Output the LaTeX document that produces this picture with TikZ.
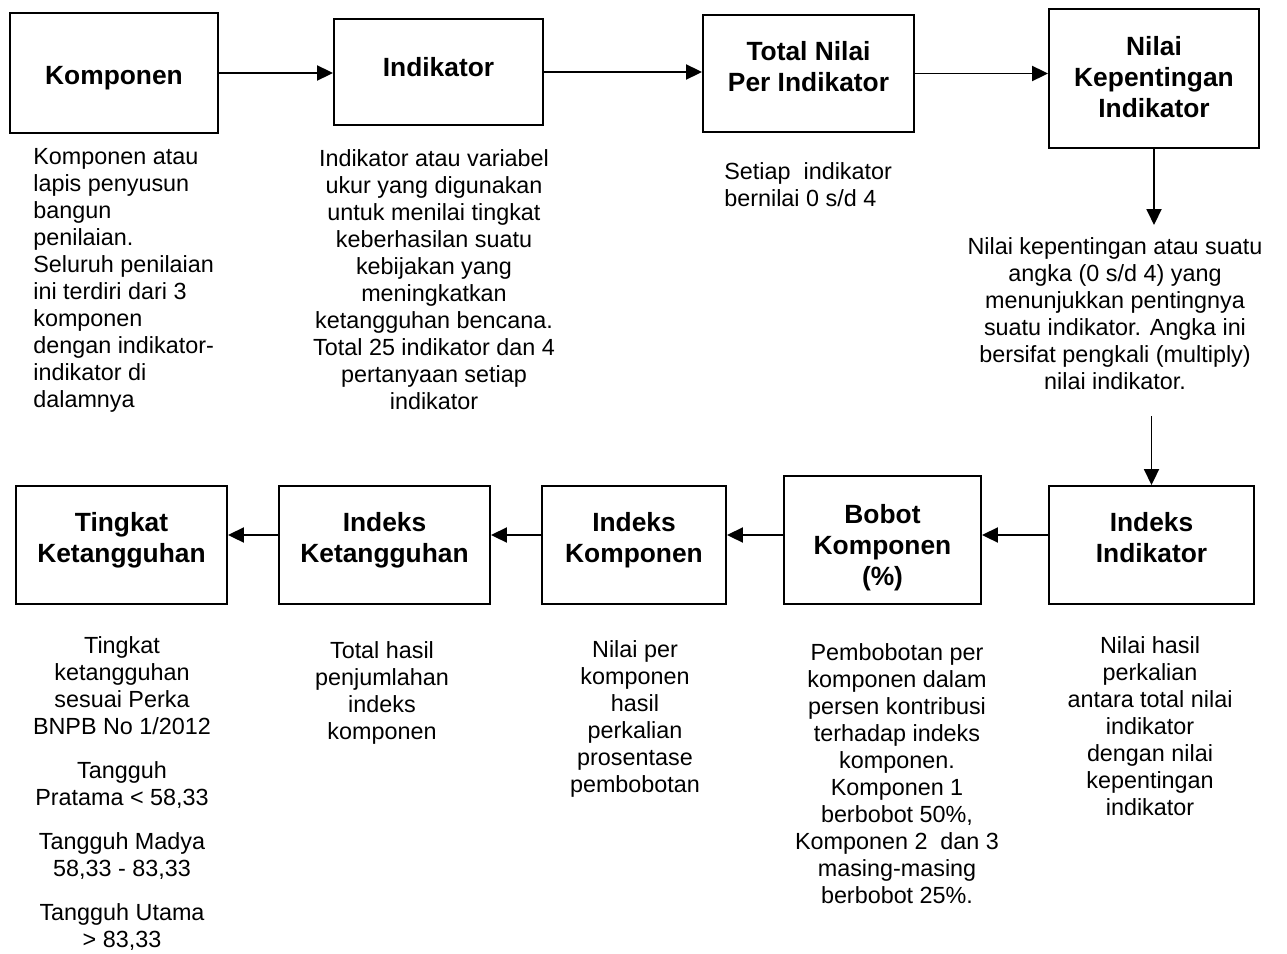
\documentclass[tikz,border=0pt]{standalone}
\usepackage{fontspec}
\setmainfont{Liberation Sans}
\usepackage{tikz}
\usetikzlibrary{arrows,shapes,arrows.meta}

\begin{document}
\begin{tikzpicture}[x=0.02cm,y=-0.02cm,
        >={Triangle[length=0.32cm,width=0.3cm]},
        kotak/.style={draw,line width=1.1pt},
        judul/.style={align=center,inner sep=0pt,font=\fontsize{15}{17.6}\selectfont\bfseries},
        ket/.style={inner sep=0pt,font=\fontsize{13.3}{15.4}\selectfont},
        panah/.style={->,line width=1.1pt}]
        % \draw[help lines,xstep=100,ystep=100] (0,0) grid (1287,953);
        \useasboundingbox (0,0) rectangle (1287,953);

        % baris atas
        \node[kotak,minimum width=4.16cm,minimum height=2.4cm] (komponen) at (114,73) {};
        \node[kotak,minimum width=4.18cm,minimum height=2.12cm] (indikator) at (438.5,72) {};
        \node[kotak,minimum width=4.22cm,minimum height=2.34cm] (totalnilai) at (808.5,73.5) {};
        \node[kotak,minimum width=4.2cm,minimum height=2.78cm] (nilaikep) at (1154,78.5) {};
        \node[judul] (jkomponen) at (114,78) {Komponen};
        \node[judul] (jindikator) at (438.5,67) {Indikator};
        \node[judul] (jtotalnilai) at (808.5,66.5) {Total Nilai\\Per Indikator};
        \node[judul] (jnilaikep) at (1154,77) {Nilai\\Kepentingan\\Indikator};

        \node[ket,anchor=north west,align=left] (ketkomponen) at (33,148) {Komponen atau\\lapis penyusun\\bangun\\penilaian.\\Seluruh penilaian\\ini terdiri dari 3\\komponen\\dengan indikator-\\indikator di\\dalamnya};
        \node[ket,anchor=north,align=center] (ketindikator) at (434,149) {Indikator atau variabel\\ukur yang digunakan\\untuk menilai tingkat\\keberhasilan suatu\\kebijakan yang\\meningkatkan\\ketangguhan bencana.\\Total 25 indikator dan 4\\pertanyaan setiap\\indikator};
        \node[ket,anchor=north west,align=left] (kettotal) at (724,162) {Setiap~~indikator\\bernilai 0 s/d 4};
        \node[ket,anchor=north,align=center] (ketnilaikep) at (1115,237) {Nilai kepentingan atau suatu\\angka (0 s/d 4) yang\\menunjukkan pentingnya\\suatu indikator. Angka ini\\bersifat pengkali (multiply)\\nilai indikator.};

        % baris bawah
        \node[kotak,minimum width=4.22cm,minimum height=2.36cm] (tingkat) at (121.5,545) {};
        \node[kotak,minimum width=4.22cm,minimum height=2.36cm] (indeksket) at (384.5,545) {};
        \node[kotak,minimum width=3.68cm,minimum height=2.36cm] (indekskomp) at (634,545) {};
        \node[kotak,minimum width=3.94cm,minimum height=2.56cm] (bobot) at (882.5,540) {};
        \node[kotak,minimum width=4.1cm,minimum height=2.36cm] (indeksind) at (1151.5,545) {};
        \node[judul] (jtingkat) at (121.5,540.5) {Tingkat\\Ketangguhan};
        \node[judul] (jindeksket) at (384.5,540.5) {Indeks\\Ketangguhan};
        \node[judul] (jindekskomp) at (634,540.5) {Indeks\\Komponen};
        \node[judul] (jbobot) at (882.5,547.5) {Bobot\\Komponen\\(\%)};
        \node[judul] (jindeksind) at (1151.5,537.5) {Indeks\\Indikator};

        \node[ket,anchor=north,align=center] (kettingkat) at (122,636) {Tingkat\\ketangguhan\\sesuai Perka\\BNPB No 1/2012\\[0.34cm]Tangguh\\Pratama < 58,33\\[0.34cm]Tangguh Madya\\58,33 - 83,33\\[0.34cm]Tangguh Utama\\> 83,33};
        \node[ket,anchor=north,align=center] (ketindeksket) at (382,641) {Total hasil\\penjumlahan\\indeks\\komponen};
        \node[ket,anchor=north,align=center] (ketindekskomp) at (635,640) {Nilai per\\komponen\\hasil\\perkalian\\prosentase\\pembobotan};
        \node[ket,anchor=north,align=center] (ketbobot) at (897,643) {Pembobotan per\\komponen dalam\\persen kontribusi\\terhadap indeks\\komponen.\\Komponen 1\\berbobot 50\%,\\Komponen 2~~dan 3\\masing-masing\\berbobot 25\%.};
        \node[ket,anchor=north,align=center] (ketindeksind) at (1150,636) {Nilai hasil\\perkalian\\antara total nilai\\indikator\\dengan nilai\\kepentingan\\indikator};

        % komponen to indikator
        \draw[panah] (komponen.east) -- (komponen.east -| indikator.west);

        % indikator to total nilai
        \draw[panah] (indikator.east) -- (indikator.east -| totalnilai.west);

        % total nilai to nilai kepentingan
        \draw[panah] (totalnilai.east) -- (totalnilai.east -| nilaikep.west);

        % nilai kepentingan down to indeks indikator
        \draw[panah] (nilaikep.south) -- ([yshift=0.24cm]ketnilaikep.north -| nilaikep.south);
        \draw[panah] ([yshift=-0.52cm]ketnilaikep.south -| indeksind.north) -- (indeksind.north);

        % indeks indikator to bobot komponen
        \draw[panah] ([yshift=0.2cm]indeksind.west) -- ([yshift=0.2cm]indeksind.west -| bobot.east);

        % bobot komponen to indeks komponen
        \draw[panah] ([yshift=0.2cm]indeksind.west -| bobot.west) -- ([yshift=0.2cm]indeksind.west -| indekskomp.east);

        % indeks komponen to indeks ketangguhan
        \draw[panah] ([yshift=0.2cm]indekskomp.west) -- ([yshift=0.2cm]indekskomp.west -| indeksket.east);

        % indeks ketangguhan to tingkat ketangguhan
        \draw[panah] ([yshift=0.2cm]indeksket.west) -- ([yshift=0.2cm]indeksket.west -| tingkat.east);

\end{tikzpicture}
\end{document}
